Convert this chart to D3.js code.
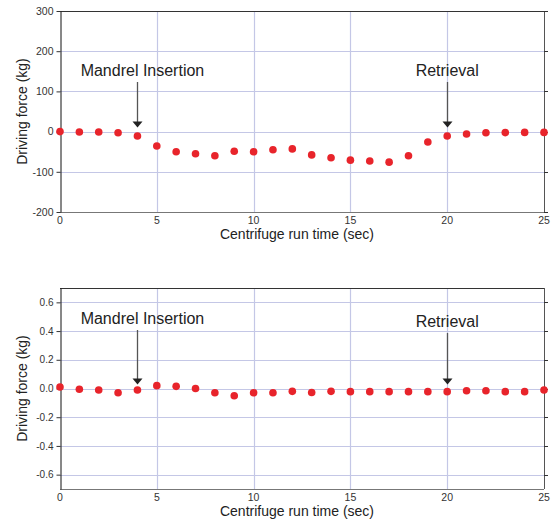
<!DOCTYPE html>
<html>
<head>
<meta charset="utf-8">
<script src="https://cdn.jsdelivr.net/npm/d3@7"></script>
<style>
  html, body { margin: 0; padding: 0; background: #fff; }
  svg { display: block; font-family: "Liberation Sans", Arial, sans-serif; }
</style>
</head>
<body>
<svg id="chart" width="551" height="523"></svg>
<script>
'use strict';

// ── Data ─────────────────────────────────────────────────────────
const timeSec = [0, 1, 2, 3, 4, 5, 6, 7, 8, 9, 10, 11, 12, 13, 14, 15, 16, 17, 18, 19, 20, 21, 22, 23, 24, 25];

const forceTop = [0, -1, -1, -3, -11, -36, -50, -55, -60, -49, -50, -45, -43, -58, -65, -71, -73, -76, -60, -26, -11, -6, -3, -2.5, -2, -2];

const forceBottom = [0.01, -0.005, -0.01, -0.03, -0.01, 0.02, 0.015, 0, -0.03, -0.05, -0.03, -0.03, -0.02, -0.028, -0.02, -0.022, -0.022, -0.022, -0.022, -0.022, -0.022, -0.016, -0.016, -0.022, -0.022, -0.01];

const xTicks       = [0, 5, 10, 15, 20, 25];
const yTicksTop    = [-200, -100, 0, 100, 200, 300];
const yTicksBottom = [-0.6, -0.4, -0.2, 0, 0.2, 0.4, 0.6];

const annoLabels = ['Mandrel Insertion', 'Retrieval'];
const annoTimes  = [4, 20];

// ── Layout ───────────────────────────────────────────────────────
const PLOT_LEFT  = 60;
const PLOT_RIGHT = 544;

const COLOR_GRID  = '#c4c7e6';
const COLOR_POINT = '#e8242b';
const COLOR_TEXT  = '#222';

const svg = d3.select('#chart');

const x = d3.scaleLinear().domain([0, 25]).range([PLOT_LEFT, PLOT_RIGHT]);

function drawPanel(cfg) {
  const y = d3.scaleLinear().domain(cfg.domain).range([cfg.bottom, cfg.top]);
  const g = svg.append('g');

  // grid
  g.append('g').selectAll('line.hgrid')
    .data(cfg.yTicks)
    .join('line')
      .attr('x1', PLOT_LEFT).attr('x2', PLOT_RIGHT)
      .attr('y1', d => Math.round(y(d)) + 0.5).attr('y2', d => Math.round(y(d)) + 0.5)
      .attr('stroke', COLOR_GRID).attr('stroke-width', 1.2);

  g.append('g').selectAll('line.vgrid')
    .data(xTicks.slice(1, -1))
    .join('line')
      .attr('x1', d => Math.round(x(d)) + 0.5).attr('x2', d => Math.round(x(d)) + 0.5)
      .attr('y1', cfg.top).attr('y2', cfg.bottom)
      .attr('stroke', COLOR_GRID).attr('stroke-width', 1.2);

  // frame
  g.append('line')
    .attr('x1', PLOT_LEFT).attr('x2', PLOT_RIGHT)
    .attr('y1', cfg.top + 0.5).attr('y2', cfg.top + 0.5)
    .attr('stroke', '#333');
  g.append('line')
    .attr('x1', PLOT_RIGHT + 0.5).attr('x2', PLOT_RIGHT + 0.5)
    .attr('y1', cfg.top).attr('y2', cfg.bottom)
    .attr('stroke', '#555');
  g.append('line')
    .attr('x1', PLOT_LEFT).attr('x2', PLOT_RIGHT)
    .attr('y1', cfg.bottom + 0.5).attr('y2', cfg.bottom + 0.5)
    .attr('stroke', '#777');

  // left axis
  const yAxis = d3.axisLeft(y)
    .tickValues(cfg.yTicks)
    .tickFormat(cfg.fmt)
    .tickSizeInner(4)
    .tickSizeOuter(0)
    .tickPadding(3);

  const ax = g.append('g')
    .attr('transform', `translate(${PLOT_LEFT + 0.5},0)`)
    .call(yAxis);
  ax.select('.domain').attr('stroke', '#111');
  ax.selectAll('.tick line').attr('stroke', '#333');
  ax.selectAll('.tick text')
    .attr('fill', '#333')
    .style('font-size', cfg.tickFont)
    .style('font-family', '"Liberation Sans", Arial, sans-serif');

  // right ticks
  g.append('g').selectAll('line.rtick')
    .data(cfg.yTicks)
    .join('line')
      .attr('x1', PLOT_RIGHT).attr('x2', PLOT_RIGHT + 4)
      .attr('y1', d => Math.round(y(d)) + 0.5).attr('y2', d => Math.round(y(d)) + 0.5)
      .attr('stroke', '#333');

  // x tick labels
  g.append('g').selectAll('text.xtick')
    .data(xTicks)
    .join('text')
      .attr('x', d => x(d))
      .attr('y', cfg.bottom + 12)
      .attr('text-anchor', 'middle')
      .attr('fill', '#333')
      .style('font-size', '10.5px')
      .text(d => d);

  // axis titles
  g.append('text')
    .attr('x', (PLOT_LEFT + PLOT_RIGHT) / 2 - 5)
    .attr('y', cfg.bottom + 27)
    .attr('text-anchor', 'middle')
    .attr('fill', COLOR_TEXT)
    .style('font-size', '14px')
    .text('Centrifuge run time (sec)');

  g.append('text')
    .attr('transform', `translate(27,${(cfg.top + cfg.bottom) / 2}) rotate(-90)`)
    .attr('text-anchor', 'middle')
    .attr('fill', COLOR_TEXT)
    .style('font-size', '14px')
    .text('Driving force (kg)');

  // annotations
  annoTimes.forEach((t, i) => {
    const ax0 = Math.round(x(t)) + 0.5;
    const tipY = y(0) - 4;
    const textY = cfg.annoY[i];
    g.append('text')
      .attr('x', x(t) + (i === 0 ? 5 : 0))
      .attr('y', textY)
      .attr('text-anchor', 'middle')
      .attr('fill', COLOR_TEXT)
      .style('font-size', '16px')
      .text(annoLabels[i]);
    g.append('line')
      .attr('x1', ax0).attr('x2', ax0)
      .attr('y1', textY + 6).attr('y2', tipY - 4)
      .attr('stroke', '#555').attr('stroke-width', 1.3);
    g.append('path')
      .attr('d', `M${ax0 - 5},${tipY - 6}L${ax0 + 5},${tipY - 6}L${ax0},${tipY}Z`)
      .attr('fill', '#222');
  });

  // points
  g.append('g').selectAll('circle')
    .data(timeSec.map((t, i) => [t, cfg.values[i]]))
    .join('circle')
      .attr('cx', d => x(d[0]))
      .attr('cy', d => y(d[1]))
      .attr('r', 3.8)
      .attr('fill', COLOR_POINT);
}

drawPanel({
  top: 11, bottom: 212,
  domain: [-200, 300],
  yTicks: yTicksTop,
  fmt: d => String(d),
  tickFont: '10.5px',
  values: forceTop,
  annoY: [76, 76],
});

drawPanel({
  top: 288, bottom: 489,
  domain: [-0.7, 0.7],
  yTicks: yTicksBottom,
  fmt: d => d.toFixed(1),
  tickFont: '10px',
  values: forceBottom,
  annoY: [324, 327],
});
</script>
</body>
</html>
